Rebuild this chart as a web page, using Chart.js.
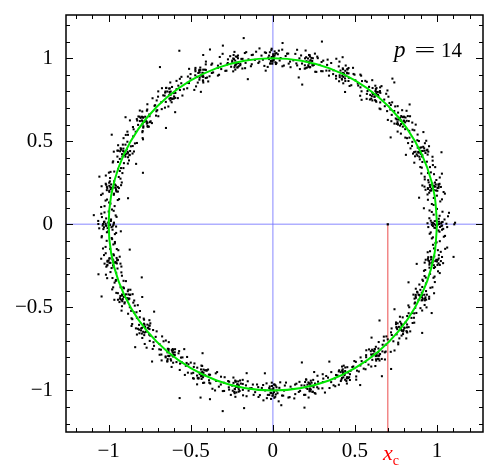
<!DOCTYPE html>
<html>
<head>
<meta charset="utf-8">
<script src="https://cdn.jsdelivr.net/npm/chart.js@4"></script>
<style>
  html, body { margin: 0; padding: 0; background: #fff; }
</style>
</head>
<body>
<canvas id="chart" width="498" height="473"></canvas>
<script>
// ===== DATA =====
// sample points, as polar angle (deg) and distance from origin
const ringAngles = [
  -6.2,-5.0,-4.1,-3.4,-2.5,-1.8,-1.2,-0.9,-0.5,-0.2,0,0.1,0.4,0.7,1.1,1.6,2.2,2.9,3.7,4.4,5.3,6.0,
  6.8,7.7,8.9,9.8,10.6,11.3,11.9,12.3,12.6,12.9,13.2,13.5,13.9,14.4,15.0,15.7,16.5,17.2,18.0,18.7,19.2,10.2,
  19.8,20.6,21.5,22.4,23.3,24.0,24.6,25.1,25.5,25.8,26.1,26.5,27.0,27.6,28.3,29.1,29.9,30.7,31.5,32.1,22.9,27.3,
  32.4,33.3,34.1,35.0,35.8,36.6,37.3,37.9,38.3,38.6,38.9,39.3,39.8,40.4,41.1,41.9,42.7,43.6,44.4,45.0,36.1,40.9,
  45.3,46.2,47.0,47.9,48.7,49.5,50.2,50.8,51.2,51.5,51.8,52.1,52.6,53.2,53.9,54.7,55.5,56.3,57.1,57.8,49.1,54.2,
  58.1,59.0,59.9,60.7,61.5,62.3,62.9,63.5,63.9,64.2,64.5,64.9,65.4,66.0,66.7,67.5,68.3,69.1,69.9,70.6,61.1,67.1,
  71.0,71.8,72.7,73.5,74.3,75.0,75.7,76.3,76.8,77.1,77.4,77.8,78.3,78.9,79.6,80.4,81.2,82.0,82.8,83.5,74.8,79.9,
  83.9,84.8,85.6,86.5,87.3,88.0,88.7,89.2,89.6,89.9,90.2,90.5,91.0,91.6,92.3,93.1,93.9,94.8,95.6,96.3,86.9,92.7,
  96.8,97.6,98.5,99.4,100.2,100.9,101.6,102.2,102.6,102.9,103.2,103.6,104.1,104.7,105.4,106.2,107.0,107.8,108.6,109.3,99.9,105.8,
  109.6,110.5,111.3,112.2,113.0,113.7,114.4,115.0,115.4,115.7,116.0,116.4,116.9,117.5,118.2,119.0,119.8,120.6,121.4,122.1,112.6,118.8,
  122.5,123.3,124.2,125.0,125.8,126.6,127.3,127.9,128.3,128.6,128.9,129.3,129.8,130.4,131.1,131.9,132.7,133.5,134.3,135.0,126.0,131.4,
  135.3,136.2,137.0,137.9,138.7,139.5,140.2,140.8,141.2,141.5,141.8,142.1,142.6,143.2,143.9,144.7,145.5,146.3,147.1,147.8,138.3,144.3,
  148.1,149.0,149.9,150.7,151.5,152.3,152.9,153.5,153.9,154.2,154.5,154.9,155.4,156.0,156.7,157.5,158.3,159.1,159.9,160.6,151.2,156.4,
  161.0,161.8,162.7,163.5,164.3,165.0,165.7,166.3,166.8,167.1,167.4,167.8,168.3,168.9,169.6,170.4,171.2,172.0,172.8,173.5,164.8,169.9,
  173.9,174.8,175.6,176.5,177.3,178.0,178.7,179.2,179.6,179.9,180.2,180.5,181.0,181.6,182.3,183.1,183.9,184.8,185.6,186.3,177.1,182.6,
  186.8,187.6,188.5,189.4,190.2,190.9,191.6,192.2,192.6,192.9,193.2,193.6,194.1,194.7,195.4,196.2,197.0,197.8,198.6,199.3,189.9,195.8,
  199.6,200.5,201.3,202.2,203.0,203.7,204.4,205.0,205.4,205.7,206.0,206.4,206.9,207.5,208.2,209.0,209.8,210.6,211.4,212.1,202.6,208.8,
  212.5,213.3,214.2,215.0,215.8,216.6,217.3,217.9,218.3,218.6,218.9,219.3,219.8,220.4,221.1,221.9,222.7,223.5,224.3,225.0,216.0,221.4,
  225.3,226.2,227.0,227.9,228.7,229.5,230.2,230.8,231.2,231.5,231.8,232.1,232.6,233.2,233.9,234.7,235.5,236.3,237.1,237.8,228.3,234.3,
  238.1,239.0,239.9,240.7,241.5,242.3,242.9,243.5,243.9,244.2,244.5,244.9,245.4,246.0,246.7,247.5,248.3,249.1,249.9,250.6,241.1,247.1,
  251.0,251.8,252.7,253.5,254.3,255.0,255.7,256.3,256.8,257.1,257.4,257.8,258.3,258.9,259.6,260.4,261.2,262.0,262.8,263.5,254.8,259.9,
  263.9,264.8,265.6,266.5,267.3,268.0,268.7,269.2,269.6,269.9,270.2,270.5,271.0,271.6,272.3,273.1,273.9,274.8,275.6,276.3,266.9,272.7,
  276.8,277.6,278.5,279.4,280.2,280.9,281.6,282.2,282.6,282.9,283.2,283.6,284.1,284.7,285.4,286.2,287.0,287.8,288.6,289.3,279.9,285.8,
  289.6,290.5,291.3,292.2,293.0,293.7,294.4,295.0,295.4,295.7,296.0,296.4,296.9,297.5,298.2,299.0,299.8,300.6,301.4,302.1,292.6,298.8,
  302.5,303.3,304.2,305.0,305.8,306.6,307.3,307.9,308.3,308.6,308.9,309.3,309.8,310.4,311.1,311.9,312.7,313.5,314.3,315.0,306.0,311.4,
  315.3,316.2,317.0,317.9,318.7,319.5,320.2,320.8,321.2,321.5,321.8,322.1,322.6,323.2,323.9,324.7,325.5,326.3,327.1,327.8,318.3,324.3,
  328.1,329.0,329.9,330.7,331.5,332.3,332.9,333.5,333.9,334.2,334.5,334.9,335.4,336.0,336.7,337.5,338.3,339.1,339.9,340.6,331.1,337.1,
  341.0,341.8,342.7,343.5,344.3,345.0,345.7,346.3,346.8,347.1,347.4,347.8,348.3,348.9,349.6,350.4,351.2,352.0,352.8,353.5,344.8,349.9,
  // stray points
  99.0,118.6,110.0,158.6,78.0,50.3,241.5,250.0,261.0,282.0,309.6,325.4,201.8,0.5
];
const ringRadii = [
  1.003,0.972,1.044,0.957,1.016,1.031,0.984,1.062,0.998,0.969,1.105,1.013,0.942,1.028,0.986,1.046,0.954,1.017,1.075,0.971,1.004,0.925,
  0.986,1.029,0.956,1.014,1.058,0.971,1.002,1.033,0.953,1.016,0.984,1.044,0.997,0.940,1.031,0.983,1.074,0.968,1.012,0.955,1.047,0.905,
  1.017,0.969,1.046,0.985,0.938,1.032,1.001,0.973,1.043,1.014,0.987,0.954,1.028,0.996,1.061,0.970,1.015,0.958,1.034,0.982,1.115,0.912,
  0.968,1.031,1.003,0.952,1.047,0.986,1.013,1.059,0.971,0.999,1.027,0.957,1.018,0.983,1.045,0.941,1.006,1.029,0.974,1.016,0.888,1.102,
  1.033,0.985,0.953,1.012,1.046,0.970,1.004,1.028,0.988,1.063,0.956,1.017,0.997,1.042,0.972,1.014,0.939,1.031,0.982,1.019,1.130,0.924,
  0.984,1.044,1.002,0.955,1.030,0.996,0.969,1.016,1.048,0.986,1.005,0.951,1.027,1.013,0.973,1.060,0.998,0.958,1.034,0.981,0.910,1.092,
  1.015,0.970,1.032,1.001,0.954,1.045,0.987,1.012,1.029,0.973,1.003,1.043,0.957,1.018,0.984,1.031,0.968,1.061,0.995,0.952,1.140,0.898,
  0.985,1.032,1.016,0.953,1.002,1.046,0.971,1.027,0.998,1.013,0.987,1.048,0.968,1.004,1.033,0.955,1.018,0.983,1.044,0.996,1.093,0.926,
  1.028,0.972,1.004,1.045,0.955,1.014,0.985,1.032,0.997,0.969,1.047,0.983,1.016,0.952,1.030,1.002,0.967,1.058,0.986,1.012,0.887,1.118,
  0.999,0.956,1.031,0.984,1.046,1.015,0.970,1.003,1.029,0.986,1.017,0.953,1.044,1.001,0.968,1.034,1.012,0.940,0.998,1.048,1.104,0.910,
  0.971,1.016,1.044,0.987,1.003,1.030,0.955,1.013,1.047,0.998,0.972,1.033,0.984,1.017,1.062,0.953,1.001,1.028,0.969,1.014,1.170,0.900,
  1.014,0.983,0.954,1.031,1.002,1.046,0.969,1.018,0.986,1.029,0.997,0.957,1.043,0.985,1.016,0.972,1.034,1.004,0.942,1.047,0.872,1.105,
  1.002,1.045,0.971,1.016,0.984,1.032,0.998,0.955,1.028,1.013,0.987,1.046,0.970,1.003,1.031,0.956,1.015,1.044,0.985,0.999,1.120,0.909,
  0.986,1.017,1.046,0.968,1.030,1.001,0.954,1.014,1.043,0.983,1.004,1.032,0.972,1.015,0.985,1.061,0.956,1.029,0.997,0.970,1.095,0.896,
  1.031,0.984,1.003,1.047,0.953,1.016,0.987,1.029,0.998,1.063,0.971,1.014,0.983,1.033,1.002,0.956,1.044,0.985,1.017,0.968,1.092,0.927,
  0.969,1.028,1.002,0.954,1.045,0.986,1.015,0.999,1.032,0.972,1.016,0.984,1.046,1.003,0.957,1.030,0.998,1.060,0.970,1.013,0.885,1.104,
  1.016,0.971,1.044,1.002,0.985,1.031,0.953,1.014,0.997,1.047,0.969,1.028,0.986,1.017,1.043,0.972,1.004,0.956,1.033,0.998,1.130,0.908,
  0.985,1.030,1.001,1.046,0.970,1.015,0.987,1.032,0.996,0.955,1.044,0.983,1.018,1.029,0.968,1.003,1.062,0.984,1.016,0.954,0.894,1.118,
  1.029,0.998,0.956,1.017,1.045,0.985,1.003,1.033,0.970,1.014,0.983,1.047,1.001,0.953,1.031,1.016,0.972,0.999,1.044,0.986,1.106,0.925,
  1.003,0.971,1.032,0.984,1.017,1.046,0.955,0.998,1.029,0.986,1.013,1.002,0.969,1.045,0.985,1.016,1.031,0.952,1.004,1.060,0.886,1.132,
  0.970,1.015,0.999,1.046,0.984,1.030,1.002,0.968,1.017,1.043,0.986,1.004,1.029,0.954,1.013,0.983,1.047,0.997,0.972,1.033,1.165,0.910,
  1.016,0.984,1.031,0.969,1.001,1.047,0.986,1.014,0.953,1.030,0.998,1.044,0.971,1.017,0.985,1.032,1.003,0.956,1.045,0.983,0.898,1.090,
  0.998,1.031,0.970,1.016,0.985,1.045,1.003,0.955,1.029,1.014,0.984,1.002,1.047,0.968,1.017,0.986,1.032,0.997,0.952,1.044,1.120,0.924,
  0.969,1.014,1.046,1.002,0.985,1.030,0.972,1.016,1.044,0.983,0.999,1.033,0.954,1.017,1.001,1.047,0.986,1.029,0.970,1.003,0.895,1.104,
  1.030,0.985,1.002,1.045,0.971,1.016,0.998,0.954,1.032,1.013,0.984,1.047,1.003,0.968,1.015,1.029,0.986,0.999,1.061,0.956,1.130,0.909,
  0.984,1.017,1.044,0.970,1.003,1.031,0.986,1.014,0.998,1.046,0.955,1.016,0.983,1.033,1.001,0.969,1.045,1.015,0.985,1.002,0.870,1.120,
  1.014,0.969,1.002,1.031,0.986,1.044,0.997,0.972,1.017,1.029,0.983,1.004,1.047,0.953,1.016,0.985,1.033,0.998,0.970,1.046,1.105,0.897,
  0.985,1.030,1.003,0.968,1.045,1.016,0.984,1.032,0.999,0.955,1.014,1.047,0.986,1.002,1.028,0.971,1.017,1.060,0.983,0.997,0.908,1.118,
  1.135,1.190,1.120,0.850,0.860,1.140,1.190,1.120,1.120,0.850,1.130,0.900,0.860,1.110
];

// second batch of sample points, same form
const ringAngles2 = [
  -5.7,-4.6,-3.8,-2.9,-2.1,-1.5,-1.0,-0.6,-0.3,0.2,0.5,0.8,1.3,1.9,2.6,3.4,4.2,5.0,
  7.2,8.3,9.2,10.0,10.8,11.4,11.9,12.4,12.7,13.0,13.4,13.8,14.3,14.9,15.5,16.3,17.1,18.1,
  20.1,21.0,21.9,22.7,23.6,24.2,24.8,25.3,25.6,25.9,26.3,26.7,27.2,27.8,28.6,29.4,30.3,31.2,
  32.9,33.8,34.6,35.4,36.3,36.9,37.5,38.0,38.4,38.7,39.1,39.5,40.0,40.7,41.4,42.3,43.1,44.0,
  45.8,46.6,47.5,48.3,49.1,49.8,50.4,50.9,51.3,51.6,52.0,52.4,52.9,53.5,54.3,55.1,56.0,56.9,
  58.6,59.4,60.3,61.1,61.9,62.6,63.2,63.7,64.1,64.4,64.7,65.1,65.6,66.3,67.1,67.9,68.8,69.6,
  71.4,72.3,73.1,73.9,74.7,75.4,76.0,76.5,76.9,77.3,77.6,78.0,78.6,79.2,80.0,80.8,81.6,82.4,
  84.3,85.2,86.0,86.9,87.6,88.3,88.9,89.4,89.8,90.1,90.4,90.8,91.3,91.9,92.7,93.5,94.4,95.2,
  97.2,98.0,98.9,99.7,100.5,101.2,101.8,102.3,102.7,103.0,103.4,103.8,104.4,105.0,105.8,106.6,107.4,108.2,
  110.0,110.9,111.7,112.6,113.4,114.0,114.6,115.1,115.5,115.9,116.2,116.6,117.2,117.8,118.6,119.4,120.2,121.0,
  122.9,123.7,124.6,125.4,126.2,126.9,127.5,128.0,128.4,128.7,129.1,129.5,130.0,130.7,131.5,132.3,133.1,134.0,
  135.7,136.6,137.4,138.3,139.1,139.8,140.4,140.9,141.3,141.6,142.0,142.4,142.9,143.6,144.3,145.1,146.0,146.8,
  148.6,149.4,150.3,151.1,151.9,152.6,153.2,153.7,154.1,154.4,154.8,155.2,155.7,156.3,157.1,157.9,158.7,159.6,
  161.4,162.3,163.1,163.9,164.7,165.4,166.0,166.5,166.9,167.3,167.6,168.0,168.5,169.2,169.9,170.8,171.6,172.5,
  174.3,175.2,176.0,176.8,177.6,178.3,178.9,179.4,179.8,180.1,180.4,180.8,181.3,181.9,182.7,183.5,184.3,185.2,
  187.1,188.0,188.9,189.7,190.5,191.2,191.8,192.3,192.7,193.0,193.4,193.8,194.3,195.0,195.7,196.6,197.4,198.3,
  200.0,200.9,201.8,202.6,203.4,204.1,204.7,205.2,205.6,205.9,206.2,206.6,207.2,207.8,208.5,209.4,210.2,211.1,
  212.8,213.7,214.6,215.4,216.2,216.9,217.5,218.0,218.4,218.7,219.1,219.5,220.0,220.7,221.4,222.3,223.1,224.0,
  225.7,226.6,227.4,228.2,229.1,229.8,230.4,230.9,231.3,231.6,232.0,232.4,232.9,233.5,234.3,235.1,236.0,236.8,
  238.6,239.4,240.3,241.1,241.9,242.6,243.2,243.7,244.1,244.4,244.8,245.2,245.7,246.3,247.1,247.9,248.8,249.6,
  251.4,252.3,253.1,253.9,254.7,255.4,256.0,256.5,256.9,257.3,257.6,258.0,258.6,259.2,260.0,260.8,261.6,262.5,
  264.3,265.2,266.1,266.9,267.7,268.3,268.9,269.4,269.8,270.1,270.4,270.8,271.3,271.9,272.7,273.5,274.3,275.2,
  277.1,278.0,278.9,279.7,280.5,281.2,281.8,282.3,282.7,283.0,283.4,283.8,284.3,285.0,285.7,286.6,287.4,288.3,
  290.0,290.9,291.8,292.6,293.4,294.1,294.7,295.2,295.6,295.9,296.2,296.6,297.2,297.8,298.5,299.4,300.2,301.1,
  302.9,303.7,304.6,305.4,306.2,306.9,307.5,308.0,308.4,308.7,309.1,309.5,310.0,310.7,311.5,312.3,313.1,314.0,
  315.7,316.6,317.4,318.3,319.1,319.8,320.4,320.9,321.3,321.6,322.0,322.4,322.9,323.6,324.3,325.1,326.0,326.8,
  328.6,329.4,330.3,331.1,331.9,332.6,333.2,333.7,334.1,334.4,334.8,335.2,335.7,336.3,337.1,337.9,338.7,339.6,
  341.4,342.3,343.1,343.9,344.7,345.4,346.0,346.5,346.9,347.3,347.6,348.0,348.5,349.2,349.9,350.8,351.6,352.5
];
const ringRadii2 = [
  1.022,0.978,1.051,0.963,1.009,1.038,0.947,1.026,0.991,1.057,0.975,1.034,0.962,1.011,1.068,0.981,1.036,0.958,
  0.976,1.041,0.993,1.064,0.959,1.022,0.985,1.048,0.969,1.007,1.036,0.951,1.019,0.982,1.055,0.964,1.027,0.994,
  1.038,0.962,1.011,1.054,0.977,0.996,1.043,0.958,1.025,0.989,1.061,0.973,1.009,1.047,0.955,1.021,0.984,1.072,
  0.961,1.024,1.057,0.989,0.943,1.035,0.976,1.012,1.049,0.967,1.028,0.991,1.063,0.952,1.017,0.979,1.041,0.995,
  1.019,0.954,1.042,0.983,1.066,0.972,1.027,0.961,1.008,1.052,0.979,1.035,0.947,1.021,0.988,1.058,0.966,1.031,
  0.993,1.047,0.964,1.029,0.978,1.061,0.951,1.018,1.039,0.972,1.006,1.054,0.985,0.958,1.032,0.976,1.069,0.987,
  1.046,0.968,1.021,0.955,1.037,0.992,1.059,0.974,1.014,0.981,1.043,0.961,1.026,1.065,0.949,1.012,0.979,1.035,
  0.972,1.031,0.958,1.053,0.987,1.024,0.965,1.041,1.008,0.979,1.057,0.969,1.016,0.948,1.036,0.993,1.062,0.975,
  1.027,0.961,1.049,0.986,1.013,0.956,1.038,0.974,1.064,0.991,1.022,0.959,1.045,0.982,1.009,1.071,0.968,1.018,
  0.958,1.036,0.984,1.061,0.971,1.019,0.946,1.042,0.988,1.027,0.963,1.053,0.979,1.014,1.066,0.953,1.029,0.992,
  1.043,0.977,1.014,0.951,1.058,0.989,1.031,0.966,1.047,1.003,0.973,1.062,0.959,1.024,0.984,1.039,0.962,1.055,
  0.984,1.052,0.967,1.028,0.994,1.061,0.956,1.019,0.978,1.045,1.007,0.962,1.036,0.981,1.072,0.969,1.023,0.948,
  1.034,0.962,1.047,0.975,1.018,0.953,1.056,0.987,1.029,0.968,1.041,0.996,1.063,0.957,1.012,0.979,1.044,0.971,
  0.967,1.038,0.981,1.059,0.954,1.026,0.992,1.047,0.963,1.015,1.068,0.976,1.032,0.985,1.053,0.949,1.021,1.006,
  1.051,0.973,1.028,0.959,1.042,0.986,1.064,0.968,1.019,0.994,1.037,0.955,1.058,0.977,1.012,0.964,1.046,0.983,
  0.979,1.045,0.962,1.033,0.988,1.066,0.953,1.024,0.971,1.052,0.996,1.039,0.958,1.017,0.983,1.061,0.967,1.029,
  1.026,0.958,1.054,0.987,1.039,0.964,1.011,1.067,0.976,1.032,0.952,1.045,0.989,1.022,0.961,1.058,0.973,1.008,
  0.963,1.029,0.985,1.056,0.972,1.043,0.948,1.018,0.993,1.061,0.967,1.034,0.981,1.049,1.004,0.957,1.027,1.069,
  1.048,0.969,1.022,0.951,1.037,0.983,1.063,0.976,1.015,0.959,1.044,0.991,1.028,0.966,1.057,0.978,1.011,0.954,
  0.987,1.053,0.964,1.025,0.978,1.046,0.955,1.033,0.992,1.068,0.971,1.014,0.959,1.041,0.983,1.029,0.962,1.056,
  1.031,0.966,1.049,0.982,1.017,0.953,1.058,0.974,1.036,0.989,1.063,0.961,1.023,0.978,1.045,0.957,1.012,0.994,
  0.969,1.043,0.987,1.061,0.958,1.027,0.976,1.051,0.994,1.019,0.964,1.038,0.981,1.066,0.952,1.033,0.973,1.047,
  1.056,0.974,1.021,0.962,1.044,0.989,1.065,0.957,1.018,0.983,1.036,0.969,1.052,0.992,1.027,0.951,1.061,0.978,
  0.982,1.037,0.958,1.046,0.991,1.023,0.967,1.059,0.976,1.031,0.954,1.048,1.003,0.972,1.064,0.986,1.019,0.961,
  1.039,0.963,1.026,0.981,1.057,0.948,1.034,0.992,1.046,0.967,1.018,0.975,1.062,0.986,1.029,0.958,1.051,0.973,
  0.966,1.051,0.984,1.032,0.957,1.064,0.979,1.023,0.961,1.042,0.995,1.056,0.972,1.016,0.953,1.038,0.987,1.027,
  1.024,0.959,1.047,0.986,1.061,0.972,1.015,0.955,1.038,0.993,1.052,0.968,1.029,0.981,1.066,0.963,1.043,0.976,
  0.975,1.034,0.962,1.058,0.989,1.021,0.953,1.046,0.978,1.063,0.967,1.027,0.984,1.049,0.958,1.036,0.992,1.071
];

// third batch: the dense knots
const ringAngles3 = [
  -1.3,-0.9,-0.6,-0.4,-0.1,0.1,0.3,0.6,0.9,1.2,
  11.6,12.0,12.3,12.5,12.8,13.0,13.3,13.6,13.9,14.2,
  24.5,24.8,25.2,25.4,25.7,25.9,26.2,26.4,26.8,27.1,
  37.4,37.7,38.0,38.3,38.5,38.8,39.0,39.3,39.6,39.9,
  50.2,50.6,50.9,51.1,51.3,51.6,51.8,52.1,52.4,52.7,
  63.1,63.4,63.7,64.0,64.2,64.5,64.7,65.0,65.3,65.6,
  75.9,76.3,76.6,76.9,77.1,77.4,77.6,77.9,78.2,78.5,
  88.8,89.1,89.4,89.7,89.9,90.2,90.4,90.7,91.0,91.3,
  101.7,102.0,102.3,102.6,102.8,103.1,103.3,103.6,103.9,104.2,
  114.5,114.9,115.2,115.5,115.7,116.0,116.2,116.5,116.8,117.1,
  127.4,127.7,128.0,128.3,128.5,128.8,129.0,129.3,129.6,129.9,
  140.2,140.6,140.9,141.2,141.4,141.7,141.9,142.2,142.5,142.8,
  153.1,153.4,153.7,154.0,154.2,154.5,154.7,155.0,155.3,155.6,
  165.9,166.3,166.6,166.9,167.1,167.4,167.6,167.9,168.2,168.5,
  178.8,179.1,179.4,179.7,179.9,180.2,180.4,180.7,181.0,181.3,
  191.7,192.0,192.3,192.6,192.8,193.1,193.3,193.6,193.9,194.2,
  204.5,204.9,205.2,205.5,205.7,206.0,206.2,206.5,206.8,207.1,
  217.4,217.7,218.0,218.3,218.5,218.8,219.0,219.3,219.6,219.9,
  230.2,230.6,230.9,231.2,231.4,231.7,231.9,232.2,232.5,232.8,
  243.1,243.4,243.7,244.0,244.2,244.5,244.7,245.0,245.3,245.6,
  255.9,256.3,256.6,256.9,257.1,257.4,257.6,257.9,258.2,258.5,
  268.8,269.1,269.4,269.7,269.9,270.2,270.4,270.7,271.0,271.3,
  281.7,282.0,282.3,282.6,282.8,283.1,283.3,283.6,283.9,284.2,
  294.5,294.9,295.2,295.5,295.7,296.0,296.2,296.5,296.8,297.1,
  307.4,307.7,308.0,308.3,308.5,308.8,309.0,309.3,309.6,309.9,
  320.2,320.6,320.9,321.2,321.4,321.7,321.9,322.2,322.5,322.8,
  333.1,333.4,333.7,334.0,334.2,334.5,334.7,335.0,335.3,335.6,
  345.9,346.3,346.6,346.9,347.1,347.4,347.6,347.9,348.2,348.5
];
const ringRadii3 = [
  0.992,1.018,0.975,1.031,1.004,0.983,1.025,0.967,1.012,0.996,
  1.014,0.979,1.027,0.991,1.036,0.969,1.008,1.021,0.985,1.002,
  0.981,1.024,0.996,1.038,0.972,1.011,0.988,1.029,0.964,1.017,
  1.026,0.987,1.013,0.971,1.033,0.998,0.977,1.019,1.005,0.984,
  0.973,1.009,1.034,0.986,1.021,0.965,1.016,0.993,1.028,0.979,
  1.019,0.982,0.998,1.037,0.968,1.024,0.989,1.006,0.975,1.031,
  0.988,1.029,0.971,1.012,0.994,1.035,0.966,1.021,1.003,0.977,
  1.031,0.976,1.016,0.989,1.024,0.967,1.007,0.983,1.036,0.995,
  0.978,1.022,0.993,1.035,0.969,1.012,0.986,1.027,0.974,1.009,
  1.023,0.971,1.008,0.984,1.032,0.996,0.965,1.018,0.989,1.035,
  0.994,1.033,0.977,1.015,0.968,1.026,1.002,0.983,1.029,0.972,
  1.012,0.969,1.027,0.991,1.038,0.978,1.014,0.966,1.021,0.997,
  0.975,1.018,1.034,0.982,1.006,0.967,1.029,0.993,1.011,0.986,
  1.028,0.984,0.971,1.023,0.995,1.036,0.978,1.009,0.964,1.017,
  0.987,1.026,1.003,0.969,1.034,0.992,1.018,0.976,1.029,1.007,
  1.017,0.973,1.031,0.996,0.968,1.022,0.985,1.037,0.979,1.004,
  0.971,1.024,0.989,1.032,1.008,0.966,1.019,0.994,1.027,0.982,
  1.035,0.988,1.012,0.974,1.026,0.997,0.969,1.021,0.983,1.009,
  0.993,1.029,0.967,1.016,0.981,1.034,1.002,0.975,1.023,0.988,
  1.021,0.977,1.006,1.033,0.971,1.013,0.989,1.027,0.966,0.998,
  0.984,1.031,0.972,1.019,1.004,0.969,1.036,0.991,1.014,0.978,
  1.027,0.994,1.015,0.973,1.032,0.986,1.009,0.965,1.024,1.001,
  0.969,1.013,0.988,1.029,0.976,1.021,0.995,1.037,0.982,1.011,
  1.016,0.981,1.034,0.992,1.007,0.971,1.025,0.987,1.031,0.968,
  0.986,1.027,0.969,1.011,1.035,0.978,1.003,1.022,0.974,1.018,
  1.032,0.974,1.008,0.985,1.019,1.037,0.966,1.014,0.991,1.026,
  0.977,1.019,1.033,0.968,1.009,0.989,1.028,0.972,1.015,0.996,
  1.011,0.983,0.996,1.036,0.971,1.024,0.987,1.018,0.967,1.031
];

// unit circle (green), every 10 degrees
const circleX = [1,0.985,0.940,0.866,0.766,0.643,0.5,0.342,0.174,0,-0.174,-0.342,-0.5,-0.643,-0.766,-0.866,-0.940,-0.985,
  -1,-0.985,-0.940,-0.866,-0.766,-0.643,-0.5,-0.342,-0.174,0,0.174,0.342,0.5,0.643,0.766,0.866,0.940,0.985,1];
const circleY = [0,0.174,0.342,0.5,0.643,0.766,0.866,0.940,0.985,1,0.985,0.940,0.866,0.766,0.643,0.5,0.342,0.174,
  0,-0.174,-0.342,-0.5,-0.643,-0.766,-0.866,-0.940,-0.985,-1,-0.985,-0.940,-0.866,-0.766,-0.643,-0.5,-0.342,-0.174,0];

const xc = 0.70;
const xRange = [-1.26, 1.28];
const yRange = [-1.25, 1.26];
const tickValues = [-1, -0.5, 0, 0.5, 1];
const pLabel = '14';

// ===== BUILD =====
const deg = Math.PI / 180;
const toXY = (angles, radii) => angles.map((a, i) => ({
  x: radii[i] * Math.cos(a * deg),
  y: radii[i] * Math.sin(a * deg)
}));
const ringPoints = toXY(ringAngles, ringRadii)
  .concat(toXY(ringAngles2, ringRadii2))
  .concat(toXY(ringAngles3, ringRadii3));
const circlePoints = circleX.map((x, i) => ({ x, y: circleY[i] }));

const FONT = '"Liberation Serif", "Times New Roman", serif';
const fmt = v => {
  const r = Math.round(v * 10) / 10;
  if (!tickValues.includes(r)) return '';
  return r < 0 ? '\u2212' + Math.abs(r) : String(r);
};

// inward ticks, frame and the extra labels
const framePlugin = {
  id: 'frame',
  afterDatasetsDraw(chart) {
    const { ctx, chartArea: a, scales: { x, y } } = chart;
    ctx.save();
    ctx.strokeStyle = '#000';
    ctx.lineWidth = 1;
    for (let k = Math.ceil(xRange[0] * 10); k <= Math.floor(xRange[1] * 10); k++) {
      const px = Math.round(x.getPixelForValue(k / 10)) + 0.5;
      const len = k % 5 === 0 ? 7 : 4;
      ctx.beginPath();
      ctx.moveTo(px, a.bottom); ctx.lineTo(px, a.bottom - len);
      ctx.moveTo(px, a.top); ctx.lineTo(px, a.top + len);
      ctx.stroke();
    }
    for (let k = Math.ceil(yRange[0] * 10); k <= Math.floor(yRange[1] * 10); k++) {
      const py = Math.round(y.getPixelForValue(k / 10)) + 0.5;
      const len = k % 5 === 0 ? 7 : 4;
      ctx.beginPath();
      ctx.moveTo(a.left, py); ctx.lineTo(a.left + len, py);
      ctx.moveTo(a.right, py); ctx.lineTo(a.right - len, py);
      ctx.stroke();
    }
    ctx.lineWidth = 1.5;
    ctx.strokeRect(a.left, a.top, a.right - a.left, a.bottom - a.top);

    // x_c label under the red line
    const cx = x.getPixelForValue(xc);
    ctx.fillStyle = '#ff0000';
    ctx.textBaseline = 'alphabetic';
    ctx.font = 'italic 22px ' + FONT;
    ctx.textAlign = 'right';
    ctx.fillText('x', cx + 5, 460);
    ctx.font = '14px ' + FONT;
    ctx.textAlign = 'left';
    ctx.fillText('c', cx + 5, 465);

    // p = 14
    ctx.fillStyle = '#000';
    ctx.font = 'italic 23px ' + FONT;
    ctx.textAlign = 'left';
    ctx.fillText('p', a.right - 89, 57);
    ctx.font = '21px ' + FONT;
    ctx.save();
    ctx.translate(a.right - 58, 57);
    ctx.scale(1.8, 1);
    ctx.textAlign = 'center';
    ctx.fillText('=', 0, 0);
    ctx.restore();
    ctx.textAlign = 'right';
    ctx.fillText(pLabel, a.right - 21, 57);
    ctx.restore();
  }
};

const axisTicks = (padding) => ({
  stepSize: 0.5,
  includeBounds: false,
  autoSkip: false,
  maxRotation: 0,
  padding,
  color: '#000',
  font: { family: FONT, size: 21 },
  callback: fmt
});

new Chart(document.getElementById('chart'), {
  type: 'scatter',
  data: {
    datasets: [
      {
        // green circle, drawn on top
        data: circlePoints,
        showLine: true,
        borderColor: '#00e600',
        borderWidth: 2,
        tension: 0.33,
        pointRadius: 0,
        fill: false
      },
      {
        data: ringPoints,
        pointStyle: 'rect',
        pointRadius: 1.45,
        backgroundColor: '#000',
        borderWidth: 0
      },
      {
        data: [{ x: xc, y: 0 }],
        pointStyle: 'rect',
        pointRadius: 1.6,
        backgroundColor: '#000',
        borderWidth: 0
      },
      {
        data: [{ x: xRange[0], y: 0 }, { x: xRange[1], y: 0 }],
        showLine: true,
        borderColor: 'rgba(110,110,255,0.55)',
        borderWidth: 1.5,
        pointRadius: 0
      },
      {
        data: [{ x: 0, y: yRange[0] }, { x: 0, y: yRange[1] }],
        showLine: true,
        borderColor: 'rgba(110,110,255,0.55)',
        borderWidth: 1.5,
        pointRadius: 0
      },
      {
        data: [{ x: xc, y: 0 }, { x: xc, y: yRange[0] }],
        showLine: true,
        borderColor: 'rgba(240,110,110,0.6)',
        borderWidth: 1,
        pointRadius: 0
      }
    ]
  },
  options: {
    responsive: false,
    animation: false,
    events: [],
    layout: { padding: { left: 0, right: 15, top: 15, bottom: 0 } },
    plugins: { legend: { display: false }, tooltip: { enabled: false } },
    scales: {
      x: {
        type: 'linear',
        min: xRange[0],
        max: xRange[1],
        grid: { display: false, drawTicks: false },
        border: { display: false },
        ticks: axisTicks(7),
        afterFit: s => { s.height = 41; s.paddingLeft = 0; s.paddingRight = 0; }
      },
      y: {
        type: 'linear',
        min: yRange[0],
        max: yRange[1],
        grid: { display: false, drawTicks: false },
        border: { display: false },
        ticks: axisTicks(13),
        afterFit: s => { s.width = 66; s.paddingTop = 0; s.paddingBottom = 0; }
      }
    }
  },
  plugins: [framePlugin]
});
</script>
</body>
</html>
